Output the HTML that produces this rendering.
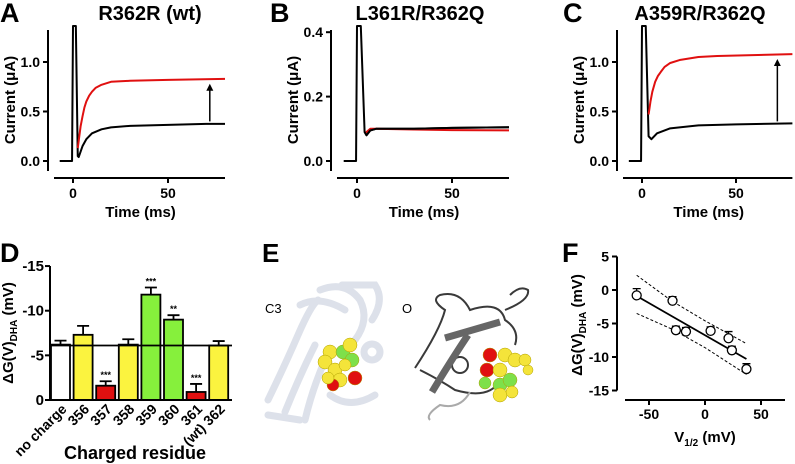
<!DOCTYPE html>
<html><head><meta charset="utf-8">
<style>
body{margin:0;background:#fff;}
svg{display:block;font-family:"Liberation Sans",sans-serif;font-weight:bold;}
</style></head><body>
<svg id="fig" width="795" height="464" viewBox="0 0 795 464" xmlns="http://www.w3.org/2000/svg">
<g id="gA"></g>
<g id="gB"></g>
<g id="gC"></g>
<g id="gD"></g>
<g id="gE">
  <text x="0" y="0" transform="translate(262,262)" font-size="26">E</text>
  <g fill="none" stroke="#dde1ea" stroke-width="7" stroke-linecap="round">
    <path d="M268 400 Q285 365 298 335 T318 300"/>
    <path d="M285 412 Q300 375 315 345"/>
    <path d="M305 420 Q312 390 325 360"/>
    <path d="M320 290 Q345 280 360 300 Q370 320 355 340"/>
    <path d="M342 285 L375 285 Q385 300 372 320"/>
    <path d="M300 305 Q320 295 345 310"/>
    <path d="M330 395 Q350 410 375 395"/>
    <path d="M268 415 L300 420"/>
    <circle cx="372" cy="352" r="8"/>
  </g>
  <g stroke="#b0a000" stroke-width="0.5">
    <circle cx="330" cy="352" r="7" fill="#f4e43a"/><circle cx="325" cy="362" r="7" fill="#f4e43a"/>
    <circle cx="335" cy="370" r="7" fill="#f4e43a"/><circle cx="343" cy="352" r="7" fill="#7ee04a"/>
    <circle cx="352" cy="360" r="7" fill="#7ee04a"/><circle cx="350" cy="345" r="7" fill="#f4e43a"/>
    <circle cx="340" cy="380" r="7" fill="#f4e43a"/><circle cx="355" cy="378" r="7" fill="#e01010"/>
    <circle cx="333" cy="385" r="6" fill="#e01010"/><circle cx="345" cy="365" r="6" fill="#f4e43a"/>
    <circle cx="328" cy="378" r="6" fill="#f4e43a"/>
  </g>
  <text x="265" y="313" font-size="13" font-weight="normal">C3</text>
  <text x="402" y="313" font-size="13" font-weight="normal">O</text>
  <g fill="none" stroke="#3a3a3a" stroke-width="2">
    <path d="M415 368 Q440 330 445 310 Q430 300 440 295 Q460 290 470 310 Q500 300 505 320 Q520 330 515 345"/>
    <path d="M420 370 Q440 380 455 390 Q490 400 500 380"/>
    <path d="M505 310 Q530 300 528 290 Q520 285 510 295"/>
    <circle cx="460" cy="365" r="8"/>
    <path d="M470 392 Q460 410 440 405 Q425 415 430 420" stroke="#aaa"/>
  </g>
  <g fill="none" stroke="#666" stroke-width="7">
    <path d="M432 392 Q450 362 468 335"/><path d="M445 338 L500 322"/>
  </g>
  <g stroke="#b0a000" stroke-width="0.5">
    <circle cx="490" cy="355" r="7" fill="#e01010"/><circle cx="487" cy="370" r="7" fill="#e01010"/>
    <circle cx="485" cy="383" r="6" fill="#7ee04a"/><circle cx="500" cy="385" r="7" fill="#7ee04a"/>
    <circle cx="505" cy="355" r="7" fill="#f4e43a"/><circle cx="515" cy="360" r="7" fill="#f4e43a"/>
    <circle cx="525" cy="360" r="6" fill="#f4e43a"/><circle cx="500" cy="370" r="7" fill="#f4e43a"/>
    <circle cx="510" cy="380" r="7" fill="#7ee04a"/><circle cx="500" cy="395" r="7" fill="#f4e43a"/>
    <circle cx="512" cy="392" r="6" fill="#f4e43a"/><circle cx="528" cy="370" r="5" fill="#f4e43a"/>
  </g>
</g>
<g id="gF"></g>
</svg>
<script>
// ---- Trace data (A, B, C) ----
const tA = [-7,-0.5,0,1.5,2.5,3,5,7,10,15,20,30,40,50,60,70,80];
const aBlack = [0,0,1.4,1.4,0.05,0.04,0.15,0.22,0.28,0.32,0.34,0.355,0.36,0.365,0.37,0.375,0.375];
const tARed = [2.5,4,5,6,7,8.5,10,12,15,20,25,30,50,80];
const aRed = [0.13,0.35,0.45,0.54,0.6,0.66,0.7,0.74,0.77,0.8,0.805,0.81,0.82,0.83];
const tB = [-7,-0.5,0,2,4,5,7,10,30,50,80];
const bBlack = [0,0,0.45,0.45,0.09,0.08,0.095,0.1,0.1,0.103,0.105];
const tBRed = [4,5,7,10,30,50,80];
const bRed = [0.085,0.09,0.1,0.1,0.098,0.096,0.095];
const tC = [-7,-0.5,0,2,3.5,5,8,15,30,50,80];
const cBlack = [0,0,1.4,1.4,0.25,0.22,0.28,0.33,0.36,0.37,0.38];
const tCRed = [3.5,4.5,5.5,7,8.5,10,12,15,20,30,40,80];
const cRed = [0.47,0.6,0.7,0.8,0.86,0.9,0.95,0.99,1.02,1.05,1.06,1.08];
const aTicksY = [0,0.5,1.0], aTickLabY = ["0.0","0.5","1.0"];
const bTicksY = [0,0.2,0.4], bTickLabY = ["0.0","0.2","0.4"];
const tTicksX = [0,50];
// ---- Bar data (D) ----
const dCats = ["no charge","356","357","358","359","360","361","(wt) 362"];
const dVals = [6.2,7.3,1.6,6.2,11.8,9.0,0.9,6.1];
const dErr = [0.45,1.0,0.5,0.6,0.8,0.5,0.9,0.5];
const dSig = ["","","***","","***","**","***",""];
const dColors = ["#ffffff","#fbf33f","#e01010","#fbf33f","#86f03c","#86f03c","#e01010","#fbf33f"];
const dRef = 6.1;
const dTicks = [0,5,10,15], dTickLab = ["0","-5","-10","-15"];
// ---- Scatter data (F) ----
const fX = [-61,-29,-26,-17,5,21,24,37];
const fY = [-0.8,-1.6,-6.0,-6.2,-6.1,-7.2,-9.0,-11.8];
const fE = [1.0,0.6,0.6,0.6,0.6,1.0,0.6,0.8];
const fFit = [[-61,-0.9],[37,-10.3]];
const fUpper = [[-61,2.2],[-30,-1.6],[0,-4.6],[37,-8.0]];
const fLower = [[-61,-3.5],[-30,-5.8],[0,-8.6],[37,-12.6]];
const fTicksY = [5,0,-5,-10,-15], fTicksX = [-50,0,50];

const NS="http://www.w3.org/2000/svg";
function mk(parent,tag,attrs,text){const e=document.createElementNS(NS,tag);for(const k in attrs)e.setAttribute(k,attrs[k]);if(text!==undefined)e.textContent=text;parent.appendChild(e);return e;}

function tracePanel(g,cfg){
  const sx=t=>cfg.x0+(t)*cfg.pxms;
  const sy=v=>Math.max(cfg.yTop-4,cfg.y0-v*cfg.pxu);
  const lab=mk(g,'text',{x:cfg.lx,y:22,'font-size':27});lab.textContent=cfg.letter;
  
  
  const ti=mk(g,'text',{x:cfg.tx,y:20,'font-size':20,'text-anchor':'middle'},cfg.title);
  
  
  const ya=mk(g,'line',{x1:cfg.ax,y1:cfg.yTop,x2:cfg.ax,y2:171,stroke:'#000','stroke-width':2});
  
  
  const xa=mk(g,'line',{x1:cfg.ax+6,y1:178,x2:sx(80),y2:178,stroke:'#000','stroke-width':2});
  
  
  cfg.ticksY.forEach((v,i)=>{
    mk(g,'line',{x1:cfg.ax-5,x2:cfg.ax,y1:cfg.y0-v*cfg.pxu,y2:cfg.y0-v*cfg.pxu,stroke:'#000','stroke-width':2});
    const t=mk(g,'text',{x:cfg.ax-8,y:cfg.y0-v*cfg.pxu+5,'font-size':14,'text-anchor':'end'},cfg.labY[i]);
    
    
  });
  tTicksX.forEach(v=>{
    mk(g,'line',{x1:sx(v),x2:sx(v),y1:178,y2:183,stroke:'#000','stroke-width':2});
    const t=mk(g,'text',{x:sx(v),y:198,'font-size':14,'text-anchor':'middle'},String(v));
    
    
  });
  const xt=mk(g,'text',{x:(cfg.ax+sx(80))/2+4,y:217,'font-size':15,'text-anchor':'middle'},'Time (ms)');
  
  
  const yt=mk(g,'text',{transform:`translate(${cfg.ax-33},100) rotate(-90)`,'font-size':15,'text-anchor':'middle'},'Current (μA)');
  
  
  const drawLine=(ts,vs,color,name)=>{
    const p=mk(g,'polyline',{points:ts.map((t,i)=>sx(t)+','+sy(vs[i])).join(' '),fill:'none',stroke:color,'stroke-width':2,'stroke-linejoin':'round'});
    
    
  };
  drawLine(cfg.tb,cfg.vb,'#000','trace-control');
  drawLine(cfg.tr,cfg.vr,'#e01010','trace-dha');
  if(cfg.tb===tB) drawLine(cfg.tb.slice(4),cfg.vb.slice(4),'#000','trace-control-overlay');
  if(cfg.arrow){
    const ax=sx(72),y1=sy(cfg.arrow[0]),y2=sy(cfg.arrow[1]);
    const a=mk(g,'line',{x1:ax,y1:y1,x2:ax,y2:y2+6,stroke:'#000','stroke-width':1.5});
    
    
    mk(g,'polygon',{points:`${ax-3.5},${y2+7} ${ax+3.5},${y2+7} ${ax},${y2}`,fill:'#000'});
  }
}
tracePanel(document.getElementById('gA'),{letter:'A',lx:0,tx:150,title:'R362R (wt)',ax:48,x0:73,pxms:1.9,y0:161,pxu:99,yTop:30,ticksY:aTicksY,labY:aTickLabY,tb:tA,vb:aBlack,tr:tARed,vr:aRed,arrow:[0.4,0.78]});
tracePanel(document.getElementById('gB'),{letter:'B',lx:270,tx:420,title:'L361R/R362Q',ax:331,x0:357,pxms:1.9,y0:161,pxu:322,yTop:30,ticksY:bTicksY,labY:bTickLabY,tb:tB,vb:bBlack,tr:tBRed,vr:bRed});
tracePanel(document.getElementById('gC'),{letter:'C',lx:563,tx:700,title:'A359R/R362Q',ax:617,x0:642,pxms:1.88,y0:161,pxu:99,yTop:30,ticksY:aTicksY,labY:aTickLabY,tb:tC,vb:cBlack,tr:tCRed,vr:cRed,arrow:[0.4,1.03]});

// ---- Panel D ----
(function(){
  const g=document.getElementById('gD');
  const y0=400,pu=8.93,ax=50,x1=232,step=22.6,bw=19;
  const sy=v=>y0-v*pu;
  const bx=i=>ax+1+i*step;
  const lab=mk(g,'text',{x:0,y:262,'font-size':27},'D');
  
  
  dVals.forEach((v,i)=>{
    const r=mk(g,'rect',{x:bx(i),y:sy(v),width:bw,height:v*pu,fill:dColors[i],stroke:'#000','stroke-width':1.8});
    
    
    const cx=bx(i)+bw/2,ty=sy(v+dErr[i]);
    const e=mk(g,'path',{d:`M${cx},${sy(v)} V${ty} M${cx-6},${ty} H${cx+6}`,stroke:'#000','stroke-width':1.8,fill:'none'});
    
    
    if(dSig[i]){const s=mk(g,'text',{x:cx,y:ty-3,'font-size':9,'text-anchor':'middle'},dSig[i]);
      
      }
    const t=mk(g,'text',{transform:`translate(${cx+7},${y0+10}) rotate(-45)`,'font-size':14,'text-anchor':'end'},dCats[i]);
    
    
  });
  const rl=mk(g,'line',{x1:ax,x2:x1,y1:sy(dRef),y2:sy(dRef),stroke:'#000','stroke-width':1.8});
  
  
  const ya=mk(g,'line',{x1:ax,x2:ax,y1:sy(15),y2:y0,stroke:'#000','stroke-width':2});
  
  
  const xa=mk(g,'line',{x1:ax,x2:x1,y1:y0,y2:y0,stroke:'#000','stroke-width':2});
  
  
  dTicks.forEach((v,i)=>{
    mk(g,'line',{x1:ax-5,x2:ax,y1:sy(v),y2:sy(v),stroke:'#000','stroke-width':2});
    const t=mk(g,'text',{x:ax-6,y:sy(v)+5,'font-size':15,'text-anchor':'end'},dTickLab[i]);
    
    
  });
  const yt=mk(g,'text',{transform:'translate(13,333) rotate(-90)','font-size':15,'text-anchor':'middle'});
  yt.innerHTML='ΔG(V)<tspan font-size="10" dy="4">DHA</tspan><tspan dy="-4"> (mV)</tspan>';
  
  
  const xt=mk(g,'text',{x:135,y:459,'font-size':18,'text-anchor':'middle'},'Charged residue');
  
  
})();

// ---- Panel F ----
(function(){
  const g=document.getElementById('gF');
  const sx=v=>705+v*1.12, sy=v=>290-v*6.7;
  const lab=mk(g,'text',{x:562,y:262,'font-size':27},'F');
  
  
  const ya=mk(g,'line',{x1:617,x2:617,y1:sy(5),y2:sy(-15),stroke:'#000','stroke-width':2});
  
  
  const xa=mk(g,'line',{x1:625,x2:785,y1:400,y2:400,stroke:'#000','stroke-width':2});
  
  
  fTicksY.forEach(v=>{
    mk(g,'line',{x1:612,x2:617,y1:sy(v),y2:sy(v),stroke:'#000','stroke-width':2});
    const t=mk(g,'text',{x:609,y:sy(v)+5,'font-size':14,'text-anchor':'end'},String(v));
    
    
  });
  fTicksX.forEach(v=>{
    mk(g,'line',{x1:sx(v),x2:sx(v),y1:400,y2:405,stroke:'#000','stroke-width':2});
    const t=mk(g,'text',{x:sx(v),y:419,'font-size':14,'text-anchor':'middle'},String(v));
    
    
  });
  const yt=mk(g,'text',{transform:'translate(582,325) rotate(-90)','font-size':15,'text-anchor':'middle'});
  yt.innerHTML='ΔG(V)<tspan font-size="10" dy="4">DHA</tspan><tspan dy="-4"> (mV)</tspan>';
  
  
  const xt=mk(g,'text',{x:705,y:442,'font-size':15,'text-anchor':'middle'});
  xt.innerHTML='V<tspan font-size="10" dy="4">1/2</tspan><tspan dy="-4"> (mV)</tspan>';
  
  
  [fUpper,fLower].forEach((arr,k)=>{
    const p=mk(g,'polyline',{points:arr.map(p=>sx(p[0])+','+sy(p[1])).join(' '),fill:'none',stroke:'#000','stroke-width':1,'stroke-dasharray':'3,2'});
    
    
  });
  const fl=mk(g,'line',{x1:sx(fFit[0][0]),y1:sy(fFit[0][1]),x2:sx(fFit[1][0]),y2:sy(fFit[1][1]),stroke:'#000','stroke-width':1.8});
  
  
  fX.forEach((x,i)=>{
    const cx=sx(x),cy=sy(fY[i]),ty=sy(fY[i]+fE[i]);
    mk(g,'path',{d:`M${cx},${cy} V${ty} M${cx-4},${ty} H${cx+4}`,stroke:'#000','stroke-width':1.3,fill:'none'});
    const c=mk(g,'circle',{cx:cx,cy:cy,r:4.5,fill:'#fff',stroke:'#000','stroke-width':1.3});
    
    
  });
})();
</script>
</body></html>
